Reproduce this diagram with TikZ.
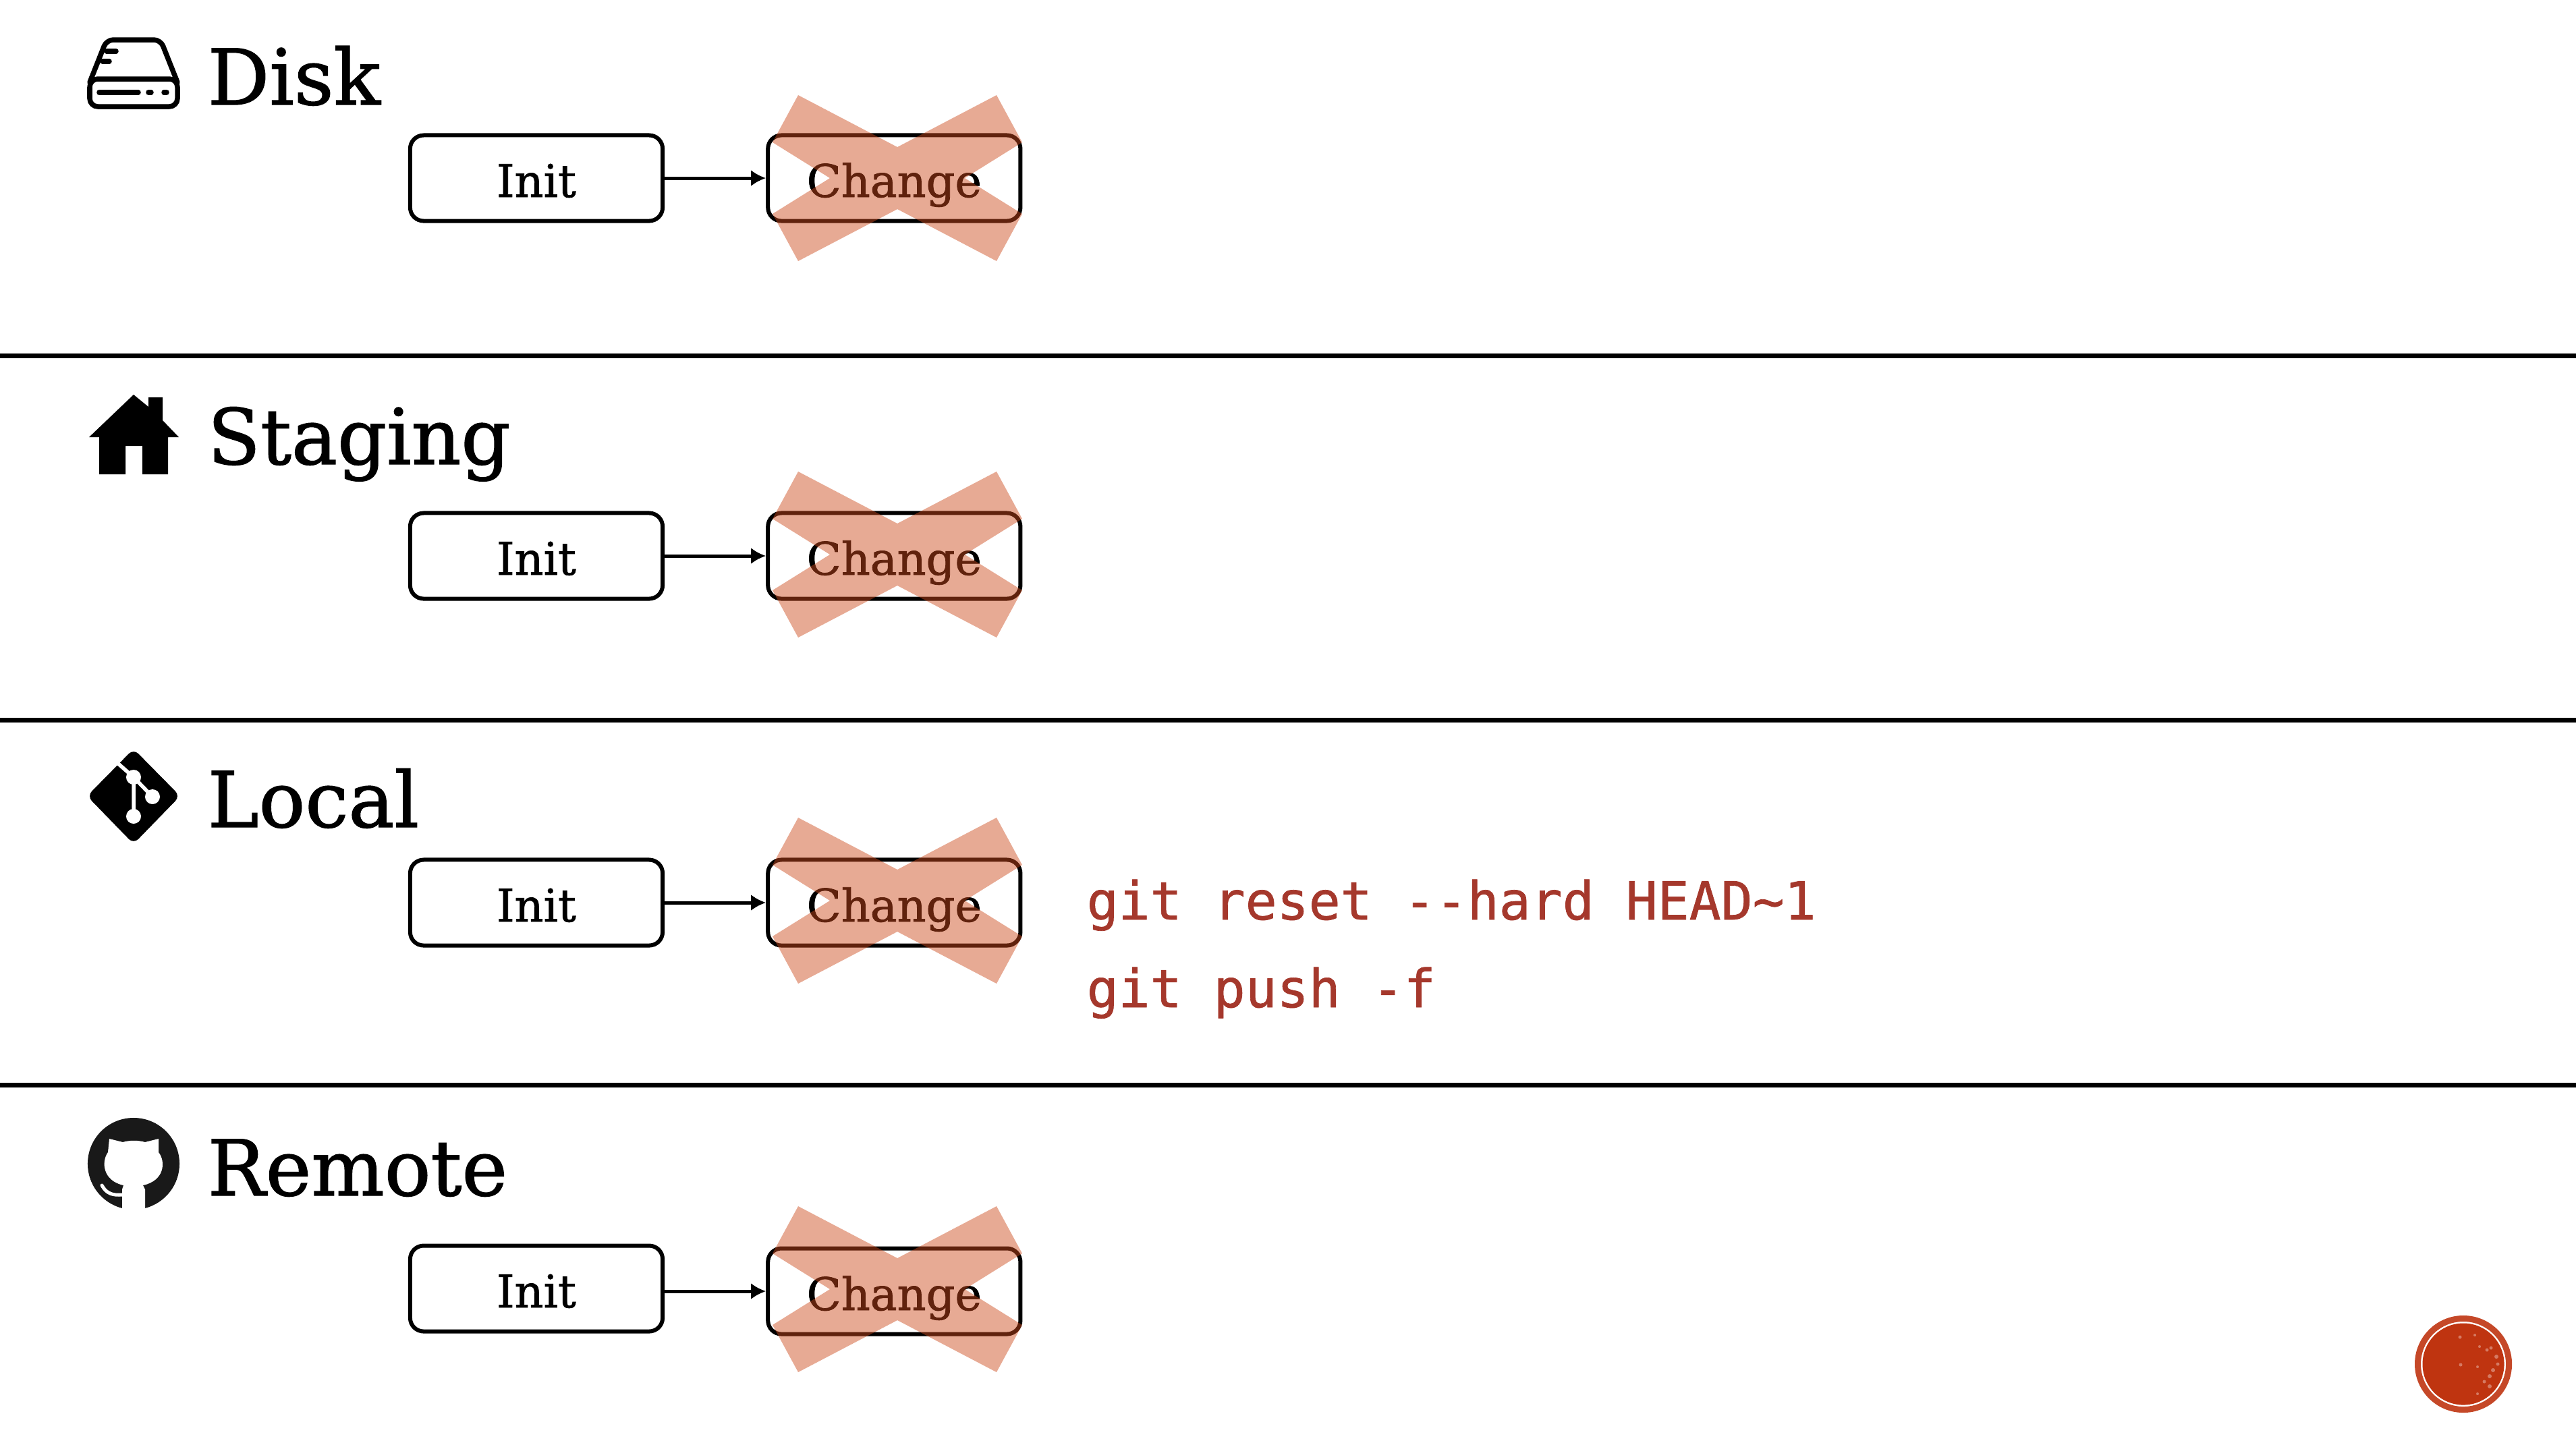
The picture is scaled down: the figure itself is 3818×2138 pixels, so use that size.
\documentclass[tikz,border=0pt]{standalone}
\usepackage{fontspec}
\setmainfont[FakeBold=1.2]{DejaVu Serif}
\newfontfamily\cmdfont[FakeBold=0.9]{DejaVu Sans Mono}
\usetikzlibrary{positioning,arrows.meta}
\definecolor{cmdred}{HTML}{A5382C}
\definecolor{crossred}{HTML}{CC4A1C}
\definecolor{stampred}{HTML}{BF3410}
\begin{document}
\begin{tikzpicture}[
  x=0.01cm, y=-0.01cm,
  node distance=1.5cm,
  rowtitle/.style={anchor=base west, inner sep=0pt, font=\fontsize{32.5}{40}\selectfont},
  commit/.style={draw, rounded corners=.2cm, line width=.06cm, minimum width=3.74cm, minimum height=1.27cm, inner sep=0pt, text height=.56cm, text depth=0cm, font=\fontsize{19}{23}\selectfont},
  flow/.style={line width=.05cm, -{Latex[length=.22cm,width=.24cm]}},
  cmd/.style={anchor=base west, inner sep=0pt, text=cmdred, font=\cmdfont\fontsize{22.2}{26}\selectfont},
  divider/.style={line width=.07cm},
  iconline/.style={line width=.075cm, line cap=round, line join=round},
  xmark/.pic={
    \fill[crossred, opacity=.47] (-147,-123) -- (0,-46) -- (147,-123) -- (185,-53) -- (100,0) -- (185,53)
      -- (147,123) -- (0,46) -- (-147,123) -- (-185,53) -- (-100,0) -- (-185,-53) -- cycle;
  }
]
\useasboundingbox (0,0) rectangle (3818,2138);
\draw[divider] (0,527) -- (3818,527);
\draw[divider] (0,1067) -- (3818,1067);
\draw[divider] (0,1608) -- (3818,1608);

\node[rowtitle] (disk) at (307,155) {Disk};
\node[rowtitle] (staging) at (307,688) {Staging};
\node[rowtitle] (local) at (307,1226) {Local};
\node[rowtitle] (remote) at (307,1772) {Remote};

\draw[iconline, rounded corners=.1cm] (133,122) -- (158,59) -- (238,59) -- (263,122);
\draw[iconline, rounded corners=.12cm] (133,117) rectangle (263,158);
\draw[iconline] (158,76) -- (172,76) (152,91) -- (162,91) (147,137) -- (205,137) (220,137) -- (224,137) (243,137) -- (247,137);

\fill (198,585) -- (220,603) -- (220,589) -- (241,589) -- (241,623) -- (265,648) -- (249,648) -- (249,703) -- (211,703)
  -- (211,661) -- (186,661) -- (186,703) -- (147,703) -- (147,648) -- (132,648) -- cycle;

\fill[rounded corners=.1cm] (198,1110) -- (267,1180) -- (198,1251) -- (129,1180) -- cycle;
\draw[white, line width=.055cm] (173,1130) -- (198,1152) -- (226,1181) (198,1152) -- (198,1210);
\fill[white] (198,1152) circle (.11cm) (226,1181) circle (.11cm) (198,1210) circle (.11cm);

\fill[black!90] (198,1725) circle (.68cm);
\fill[white] (182,1693) -- (162,1688) -- (160,1708) .. controls (150,1722) and (152,1750) .. (183,1757)
  -- (181,1763) -- (181,1800) -- (215,1800) -- (215,1763) -- (212,1757)
  .. controls (244,1750) and (246,1722) .. (235,1708) -- (235,1688) -- (215,1693) .. controls (205,1690) and (192,1690) .. (182,1693) -- cycle;
\draw[white, line width=.05cm, line cap=round] (151,1757) .. controls (158,1770) and (168,1772) .. (181,1771);

\node[commit] (init1) at (795,264) {Init};
\node[commit, right=of init1] (change1) {Change};
\draw[flow] (init1) -- (change1);
\pic at (1330,264) {xmark};

\node[commit] (init2) at (795,824) {Init};
\node[commit, right=of init2] (change2) {Change};
\draw[flow] (init2) -- (change2);
\pic at (1330,822) {xmark};

\node[commit] (init3) at (795,1338) {Init};
\node[commit, right=of init3] (change3) {Change};
\draw[flow] (init3) -- (change3);
\pic at (1330,1335) {xmark};

\node[commit] (init4) at (795,1910) {Init};
\node[commit, right=of init4, yshift=-.04cm] (change4) {Change};
\draw[flow] (init4.east |- change4) -- (change4);
\pic at (1330,1911) {xmark};

\node[cmd] (reset) at (1610,1363) {git reset --hard HEAD\string~1};
\node[cmd] (push) at (1610,1493) {git push -f};

\draw[stampred!90!white, line width=.09cm] (3651,2022) circle (.675cm);
\fill[stampred] (3651,2022) circle (.605cm);
\fill[white, opacity=.35] (3700,2011) circle (.03cm) (3686,2001) circle (.025cm) (3692,1998) circle (.025cm) (3695,2031) circle (.03cm)
  (3690,2040) circle (.03cm) (3682,2048) circle (.025cm) (3690,2055) circle (.03cm) (3672,2026) circle (.02cm) (3647,2023) circle (.025cm)
  (3646,1982) circle (.025cm) (3668,1979) circle (.02cm) (3675,1996) circle (.02cm) (3702,2022) circle (.025cm) (3672,2066) circle (.02cm);
\end{tikzpicture}
\end{document}
